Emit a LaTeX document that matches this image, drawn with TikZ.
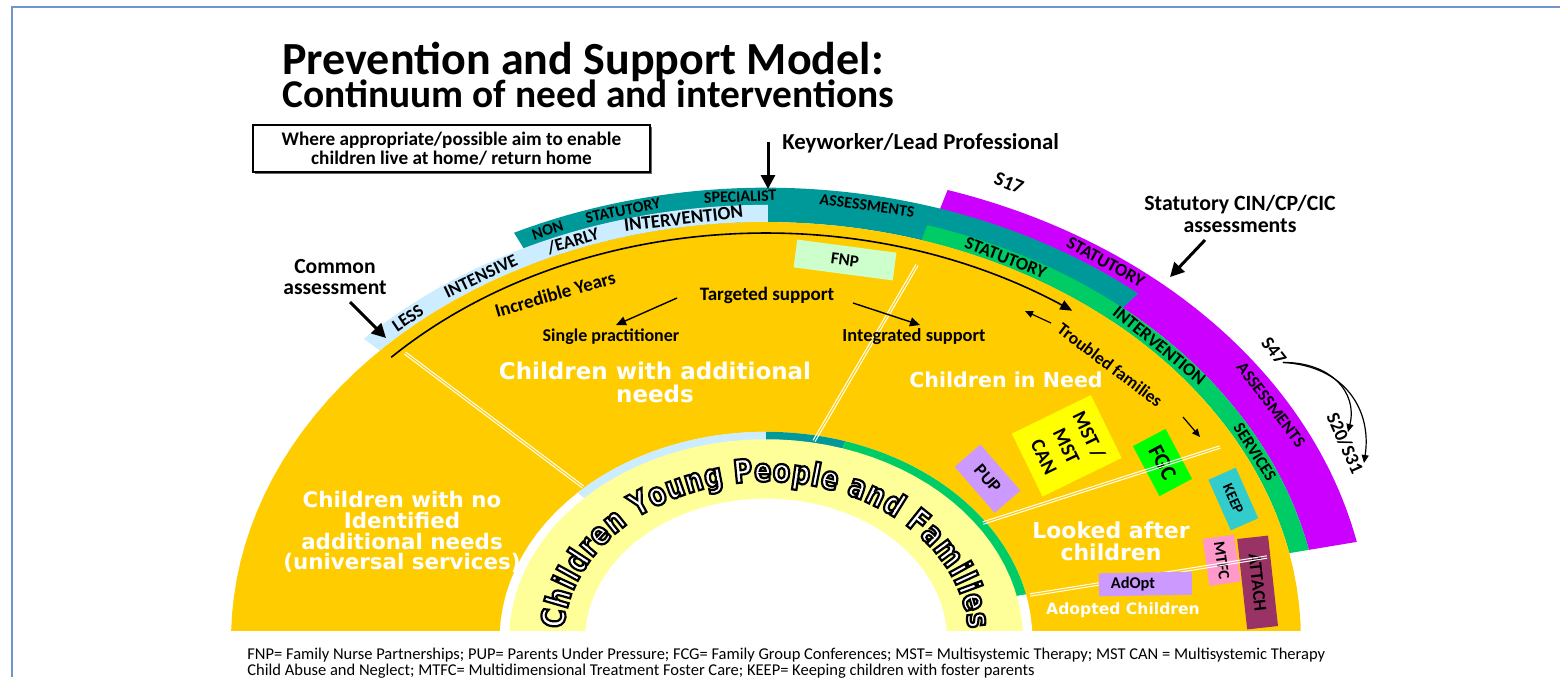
\documentclass[tikz,border=0pt]{standalone}
\usepackage{fontspec}
\setmainfont{Carlito}
\newfontfamily\wfont{DejaVu Sans Bold}
\newfontfamily\cyfont[FakeStretch=0.8]{DejaVu Sans Bold}
\usetikzlibrary{arrows.meta,decorations.text,calc,shadows}

\definecolor{cOrange}{HTML}{FFCC00}
\definecolor{cLBlue}{HTML}{CCECFF}
\definecolor{cTeal}{HTML}{009999}
\definecolor{cGreen}{HTML}{00CC66}
\definecolor{cPurple}{HTML}{CC00FF}
\definecolor{cPale}{HTML}{FFFF99}
\definecolor{cFNP}{HTML}{CCFFCC}
\definecolor{cLav}{HTML}{CC99FF}
\definecolor{cYel}{HTML}{FFFF00}
\definecolor{cLime}{HTML}{00FF00}
\definecolor{cKeep}{HTML}{33CCCC}
\definecolor{cPink}{HTML}{FF99CC}
\definecolor{cPlum}{HTML}{993366}
\definecolor{cFrame}{HTML}{7094D0}

% annular elliptic sector: colour, a_in, a_out, t1, t2  (b = a/1.28)
\newcommand\annsec[5]{\fill[#1] plot[domain=#4:#5,samples=70] ({766+#3*cos(\x)},{640+#3/1.28*sin(\x)}) -- plot[domain=#5:#4,samples=70] ({766+#2*cos(\x)},{640+#2/1.28*sin(\x)}) -- cycle;}
% label along band: name, theta, a, size, text
\newcommand\bandtxt[5]{%
 \pgfmathsetmacro\pBx{766+#3*cos(#2)}%
 \pgfmathsetmacro\pBy{640+#3/1.28*sin(#2)}%
 \pgfmathsetmacro\pBr{atan2(-#3/1.28*cos(#2),-#3*sin(#2))}%
 \node[inner sep=0pt, font=\bfseries\fontsize{#4}{#4}\selectfont, rotate=\pBr] (#1) at (\pBx,\pBy) {#5};}
% double white divider
\newcommand\dline[2]{\draw[wline] ($(#1)!0.6pt!90:(#2)$) -- ($(#2)!0.6pt!-90:(#1)$); \draw[wline] ($(#1)!0.6pt!-90:(#2)$) -- ($(#2)!0.6pt!90:(#1)$);}

\tikzset{
 lbl/.style={inner sep=0pt, text=black},
 wlbl/.style={text=white, align=center, inner sep=0pt},
 pbox/.style={inner sep=0pt, text=black},
 bigarrow/.style={line width=1.5pt, -{Triangle[length=7pt,width=7pt]}},
 midarrow/.style={line width=0.7pt, -{Triangle[length=5pt,width=4.5pt]}},
 smallarrow/.style={line width=0.6pt, -{Triangle[length=4pt,width=3.5pt]}},
 wline/.style={draw=white, line width=0.5pt},
}

\begin{document}
\begin{tikzpicture}[x=0.5pt,y=-0.5pt]
\useasboundingbox (0,0) rectangle (1560,677);
\fill[white] (0,0) rectangle (1560,677);
\draw[cFrame, line width=0.7pt] (12,677) -- (12,7) -- (1560,7);

\begin{scope}
\clip (0,0) rectangle (1560,630);
\annsec{cPurple}{555}{604}{287.5}{348}
\annsec{cTeal}{535}{579}{244.2}{310}
\annsec{cLBlue}{535}{557}{223.8}{270.2}
\annsec{cGreen}{535}{555}{286.9}{348}
\fill[cOrange] plot[domain=0:360,samples=150] ({766+535*cos(\x)},{640+418*sin(\x)}) -- cycle;
\fill[white] plot[domain=0:360,samples=100] ({766+266.5*cos(\x)},{640+208.2*sin(\x)}) -- cycle;
\annsec{cLBlue}{250}{266.5}{225}{270}
\annsec{cTeal}{250}{266.5}{270}{287.3}
\annsec{cGreen}{250}{266.5}{287.3}{347.3}
\fill[cPale] plot[domain=0:360,samples=100] ({766+257*cos(\x)},{640+200.8*sin(\x)}) -- cycle;
\fill[white] plot[domain=0:360,samples=100] ({766+181*cos(\x)},{640+141.4*sin(\x)}) -- cycle;
\end{scope}

% ring title: white fill, black outline (text render mode 2)
\path[decorate, decoration={text along path, text={|\cyfont\fontsize{16}{16}\selectfont\special{pdf:literal direct 0 G 2 Tr 1.1 w}|Children Young People and Families}, text align=fit to path, text color=white}] plot[domain=184:356,samples=50] ({766+203*cos(\x)},{640+158.6*sin(\x)});
\node[inner sep=0pt] (trreset) at (0,0) {\special{pdf:literal direct 0 Tr}};

% dividers
\coordinate (d1a) at (405,353); \coordinate (d1b) at (583,487);
\coordinate (d2a) at (917,265); \coordinate (d2b) at (814,441);
\coordinate (d3a) at (983,523); \coordinate (d3b) at (1220,447);
\coordinate (d4a) at (1030,595); \coordinate (d4b) at (1267,557);
\dline{d1a}{d1b}
\dline{d2a}{d2b}

% black arc
\draw[line width=0.8pt, -{Triangle[length=6pt,width=5pt]}] plot[smooth, domain=224:306, samples=60] ({766+521*cos(\x)},{640+407*sin(\x)});

% band labels
\bandtxt{bLess}{229}{546}{9}{LESS}
\bandtxt{bInt}{238.5}{546}{9}{INTENSIVE}
\bandtxt{bEarly}{249.3}{546}{9}{/EARLY}
\bandtxt{bInterv}{261.3}{546}{9.5}{INTERVENTION}
\bandtxt{bNon}{247.4}{568}{8}{NON}
\bandtxt{bStat}{255.4}{568}{8}{STATUTORY}
\bandtxt{bSpec}{267.4}{568}{8}{SPECIALIST}
\bandtxt{bAss}{280.3}{565}{8}{ASSESSMENTS}
\bandtxt{gStat}{296.1}{545}{9}{STATUTORY}
\bandtxt{gInterv}{316.2}{545}{9}{INTERVENTION}
\bandtxt{gServ}{333.8}{545}{8.5}{SERVICES}
\bandtxt{pStat}{305.1}{591}{9}{STATUTORY}
\bandtxt{pAss}{329.2}{588}{8.5}{ASSESSMENTS}

% boxes
\node[pbox, fill=cFNP, rotate=-7.5, minimum width=50pt, minimum height=14pt, font=\bfseries\fontsize{8.5}{9}\selectfont] (fnp) at (845,260) {FNP};
\node[pbox, fill=cLav, rotate=-49, minimum width=30.5pt, minimum height=17pt, font=\bfseries\fontsize{9}{9}\selectfont] (pup) at (987.5,478.7) {PUP};
\node[pbox, fill=cYel, rotate=-64, minimum width=35pt, minimum height=44pt, align=center, font=\bfseries\fontsize{10}{12.5}\selectfont] (mst) at (1066.7,445.8) {MST /\\MST\\CAN};
\node[pbox, fill=cLime, rotate=-62, minimum width=28.3pt, minimum height=18.5pt, font=\bfseries\fontsize{11}{11}\selectfont] (fgc) at (1162.5,462.5) {FGC};
\dline{d3a}{d3b}
\node[pbox, fill=cKeep, rotate=-66, minimum width=27.7pt, minimum height=15pt, font=\bfseries\fontsize{7.5}{7.5}\selectfont] (keep) at (1233.3,499) {KEEP};
\node[pbox, fill=cPink, rotate=-82, minimum width=23.7pt, minimum height=15.8pt, font=\bfseries\fontsize{8}{8}\selectfont] (mtfc) at (1221.7,560.2) {MTFC};
\node[pbox, fill=cPlum, rotate=-83.7, minimum width=45.5pt, minimum height=15.5pt, font=\bfseries\fontsize{9}{9}\selectfont] (attach) at (1257.6,582.5) {ATTACH};
\dline{d4a}{d4b}
\node[pbox, fill=cLav, rotate=1, minimum width=46.5pt, minimum height=11.5pt] (adoptbox) at (1145.4,584) {};
\node[lbl, font=\bfseries\fontsize{8.2}{8.2}\selectfont] (adopt) at (1133,584.5) {AdOpt};

% white labels
\node[wlbl, font=\wfont\fontsize{11.5}{11.5}\selectfont] (can) at (655,382) {Children with additional\\needs};
\node[wlbl, font=\wfont\fontsize{10.3}{10.3}\selectfont] (cin) at (1006,380) {Children in Need};
\node[wlbl, font=\wfont\fontsize{10.7}{10.3}\selectfont] (cno) at (402,532) {Children with no\\Identified\\additional needs\\(universal services)};
\node[wlbl, font=\wfont\fontsize{11}{10.85}\selectfont] (lac) at (1111,541) {Looked after\\children};
\node[wlbl, font=\wfont\fontsize{7.8}{7.8}\selectfont] (adc) at (1123,610) {Adopted Children};

% black interior labels
\node[lbl, rotate=16, font=\bfseries\fontsize{9.5}{9.5}\selectfont] (iy) at (555,294) {Incredible Years};
\node[lbl, font=\bfseries\fontsize{9.5}{9.5}\selectfont] (tgt) at (767,295) {Targeted support};
\node[lbl, font=\bfseries\fontsize{9}{9}\selectfont] (single) at (611,337) {Single practitioner};
\node[lbl, font=\bfseries\fontsize{9.2}{9.2}\selectfont] (integ) at (914,337) {Integrated support};
\node[lbl, rotate=-37, font=\bfseries\fontsize{8.8}{8.8}\selectfont] (troub) at (1110,365) {Troubled families};
\coordinate (tgA) at (677,298); \coordinate (tgB) at (616,325);
\coordinate (tgC) at (853,303); \coordinate (tgD) at (920,325);
\draw[midarrow] (tgA) -- (tgB);
\draw[midarrow] (tgC) -- (tgD);
\coordinate (trA) at (1051,323); \coordinate (trB) at (1025,311);
\draw[smallarrow] (trA) -- (trB);
\coordinate (trC) at (1183,417); \coordinate (trD) at (1200,437);
\draw[smallarrow] (trC) -- (trD);

% title & outer labels
\node[lbl, anchor=base west, font=\bfseries\fontsize{23}{27}\selectfont] (title1) at (282,74) {Prevention and Support Model:};
\node[lbl, anchor=base west, font=\bfseries\fontsize{19.7}{24}\selectfont] (title2) at (282,107) {Continuum of need and interventions};
\node[draw, line width=1pt, fill=white, drop shadow={shadow xshift=1pt, shadow yshift=-1pt, fill=black!60, opacity=1}, minimum width=198.5pt, minimum height=23.5pt, inner sep=0pt, align=center, font=\bfseries\fontsize{9.6}{9.6}\selectfont] (aim) at (451.5,148.5) {Where appropriate/possible aim to enable\\children live at home/ return home};

\node[lbl, anchor=west, font=\bfseries\fontsize{11.4}{12}\selectfont] (kw) at (782,143) {Keyworker/Lead Professional};
\coordinate (kwTop) at (768,142); \coordinate (kwTip) at (768,189);
\draw[bigarrow] (kwTop) -- (kwTip);

\node[lbl, rotate=-22, font=\bfseries\fontsize{10}{10}\selectfont] (s17) at (1009,183) {S17};
\node[lbl, align=center, font=\bfseries\fontsize{10.9}{11}\selectfont] (stat) at (1240,214) {Statutory CIN/CP/CIC\\assessments};
\coordinate (stA) at (1205,240); \coordinate (stB) at (1170,277);
\draw[bigarrow] (stA) -- (stB);

\node[lbl, align=center, font=\bfseries\fontsize{10.8}{10.5}\selectfont] (common) at (335,277) {Common\\assessment};
\coordinate (caA) at (350,302); \coordinate (caB) at (386,338);
\draw[bigarrow] (caA) -- (caB);

\node[lbl, rotate=-52, font=\bfseries\fontsize{9.5}{9.5}\selectfont] (s47) at (1274,351) {S47};
\node[lbl, rotate=-66, font=\bfseries\fontsize{9.5}{9.5}\selectfont] (s2031) at (1345,443) {S20/S31};
\coordinate (s20a) at (1348,432); \coordinate (s20b) at (1364,463);
\draw[smallarrow] (s47.east) .. controls (1330,362) and (1358,392) .. (s20a);
\draw[smallarrow] (s47.east) .. controls (1345,366) and (1372,410) .. (s20b);

% footer
\node[lbl, anchor=west, align=left, font=\fontsize{8.25}{8}\selectfont] (foot) at (247,663) {FNP= Family Nurse Partnerships; PUP= Parents Under Pressure; FCG= Family Group Conferences; MST= Multisystemic Therapy; MST CAN = Multisystemic Therapy\\Child Abuse and Neglect; MTFC= Multidimensional Treatment Foster Care; KEEP= Keeping children with foster parents};
\end{tikzpicture}
\end{document}
